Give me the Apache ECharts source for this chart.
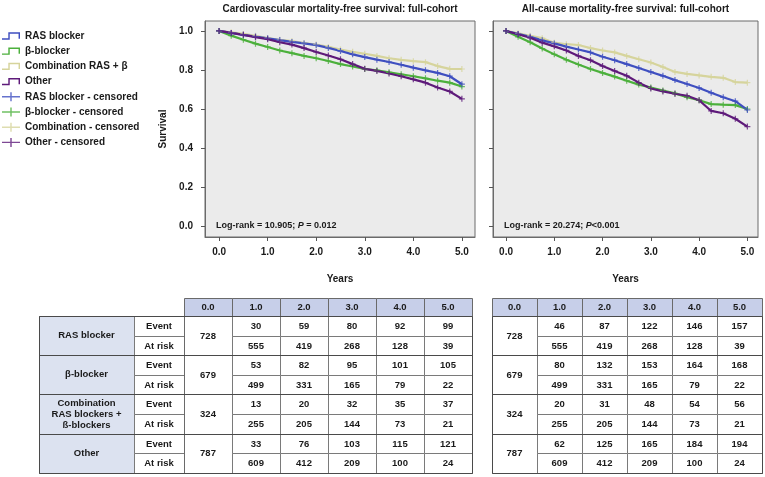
<!DOCTYPE html>
<html>
<head>
<meta charset="utf-8">
<script src="https://cdn.jsdelivr.net/npm/echarts@6/dist/echarts.min.js"></script>
<style>
html,body{margin:0;padding:0;background:#fff;}
#chart{width:765px;height:477px;}
</style>
</head>
<body>
<div id="chart"></div>
<script>
// ---------- DATA ----------
const TIMES = [0,0.25,0.5,0.75,1,1.25,1.5,1.75,2,2.25,2.5,2.75,3,3.25,3.5,3.75,4,4.25,4.5,4.75,5];

// Cardiovascular mortality-free survival
const cvRas   = [1.0,0.990,0.980,0.971,0.962,0.953,0.944,0.936,0.927,0.913,0.897,0.880,0.866,0.853,0.841,0.827,0.812,0.798,0.785,0.768,0.727];
const cvBeta  = [1.0,0.976,0.955,0.935,0.918,0.900,0.886,0.872,0.860,0.846,0.830,0.818,0.805,0.798,0.788,0.778,0.768,0.757,0.745,0.735,0.715];
const cvCombo = [1.0,0.993,0.985,0.975,0.963,0.955,0.948,0.938,0.930,0.918,0.905,0.893,0.883,0.872,0.860,0.852,0.845,0.840,0.820,0.806,0.805];
const cvOther = [1.0,0.990,0.980,0.968,0.958,0.942,0.930,0.912,0.892,0.874,0.855,0.830,0.806,0.795,0.782,0.768,0.752,0.735,0.710,0.690,0.652];

// All-cause mortality-free survival
const acRas   = [1.0,0.985,0.970,0.952,0.936,0.920,0.905,0.890,0.868,0.850,0.830,0.810,0.790,0.770,0.748,0.728,0.708,0.683,0.660,0.640,0.595];
const acBeta  = [1.0,0.970,0.942,0.910,0.880,0.852,0.828,0.805,0.785,0.766,0.745,0.725,0.710,0.695,0.680,0.660,0.645,0.625,0.622,0.620,0.600];
const acCombo = [1.0,0.988,0.975,0.963,0.940,0.932,0.928,0.912,0.900,0.890,0.872,0.855,0.838,0.815,0.790,0.780,0.772,0.765,0.760,0.738,0.735];
const acOther = [1.0,0.983,0.965,0.940,0.921,0.900,0.872,0.850,0.820,0.795,0.770,0.735,0.705,0.690,0.678,0.668,0.645,0.590,0.578,0.550,0.510];

const X_TICKS = [0,1,2,3,4,5];
const Y_TICKS = [0,0.2,0.4,0.6,0.8,1.0];

const GROUP_NAMES   = ['RAS blocker','β-blocker','Combination RAS + β','Other'];
const CENSOR_NAMES  = ['RAS blocker - censored','β-blocker - censored','Combination - censored','Other - censored'];
const GROUP_COLORS  = ['#3f4fc0','#4cb03c','#d6d49c','#5e1a7a'];

const TITLES   = ['Cardiovascular mortality-free survival: full-cohort','All-cause mortality-free survival: full-cohort'];
const LOGRANK  = [['Log-rank = 10.905; ',' = 0.012'],['Log-rank = 20.274; ','<0.001']];

// Tables
const TABLE_COLS   = ['0.0','1.0','2.0','3.0','4.0','5.0'];
const TABLE_GROUPS = ['RAS blocker','β-blocker','Combination\nRAS blockers +\nß-blockers','Other'];
const ROW_KINDS    = ['Event','At risk'];
const BASELINE     = [728,679,324,787];
const AT_RISK      = [[555,419,268,128,39],[499,331,165,79,22],[255,205,144,73,21],[609,412,209,100,24]];
const CV_EVENTS    = [[30,59,80,92,99],[53,82,95,101,105],[13,20,32,35,37],[33,76,103,115,121]];
const AC_EVENTS    = [[46,87,122,146,157],[80,132,153,164,168],[20,31,48,54,56],[62,125,165,184,194]];

// ---------- LAYOUT ----------
const FONT = '"Liberation Sans", Arial, sans-serif';
const TXT = '#1a1a1a';
const GRIDS = [
  {left:205, top:21, width:270, height:216, xmin:-0.29, xmax:5.27},
  {left:493, top:21, width:265, height:216, xmin:-0.27, xmax:5.22}
];
const YMIN = -0.056, YMAX = 1.051;

const stepIcon  = 'path://M0,7.5 L7,7.5 L7,1 L20,1 L20,8 L18.4,8 L18.4,2.6 L8.6,2.6 L8.6,9.1 L0,9.1 Z';
const crossIcon = 'path://M0,4.2 L20,4.2 L20,5.8 L0,5.8 Z M9.2,0 L10.8,0 L10.8,10 L9.2,10 Z';
const crossSym  = 'path://M0,4 L10,4 L10,6 L0,6 Z M4,0 L6,0 L6,10 L4,10 Z';

const chart = echarts.init(document.getElementById('chart'), null, {renderer:'canvas'});

const grid = GRIDS.map(g => ({left:g.left, top:g.top, width:g.width, height:g.height,
  show:true, backgroundColor:'#ebebeb', borderColor:'#6a6a6a', borderWidth:1}));

const xAxis = GRIDS.map((g,i) => ({
  gridIndex:i, type:'value', min:g.xmin, max:g.xmax,
  name:'Years', nameLocation:'middle', nameGap:37,
  nameTextStyle:{fontSize:10, fontWeight:'bold', color:TXT, fontFamily:FONT},
  axisLine:{show:true, onZero:false, lineStyle:{color:'#6a6a6a'}},
  axisTick:{show:true, length:4, customValues:X_TICKS, lineStyle:{color:'#555'}},
  axisLabel:{customValues:X_TICKS, formatter:v=>v.toFixed(1), margin:10, fontSize:10, fontWeight:'bold', color:TXT, fontFamily:FONT},
  splitLine:{show:false}
}));

const yAxis = GRIDS.map((g,i) => ({
  gridIndex:i, type:'value', min:YMIN, max:YMAX,
  name: i===0 ? 'Survival' : '', nameLocation:'middle', nameGap:37,
  nameTextStyle:{fontSize:10, fontWeight:'bold', color:TXT, fontFamily:FONT},
  axisLine:{show:true, onZero:false, lineStyle:{color:'#6a6a6a'}},
  axisTick:{show:true, length:4, customValues:Y_TICKS, lineStyle:{color:'#555'}},
  axisLabel:{show: i===0, customValues:Y_TICKS, formatter:v=>v.toFixed(1), margin:12, fontSize:10, fontWeight:'bold', color:TXT, fontFamily:FONT},
  splitLine:{show:false}
}));

const curveSets = [[cvRas,cvBeta,cvCombo,cvOther],[acRas,acBeta,acCombo,acOther]];
const drawOrder = [2,1,0,3];
const series = [];
curveSets.forEach((set, gi) => {
  drawOrder.forEach(k => {
    const data = TIMES.map((t,j) => [t, set[k][j]]);
    series.push({name:GROUP_NAMES[k], type:'line', xAxisIndex:gi, yAxisIndex:gi, data,
      showSymbol:false, symbol:stepIcon, color:GROUP_COLORS[k], lineStyle:{width:2.2, color:GROUP_COLORS[k]}, z:2});
    series.push({name:CENSOR_NAMES[k], type:'scatter', xAxisIndex:gi, yAxisIndex:gi, data,
      symbol:crossSym, symbolSize:6, itemStyle:{color:GROUP_COLORS[k]}, z:3});
  });
});

// ---------- GRAPHIC (titles, log-rank, tables) ----------
const graphic = [];
function txt(x, y, text, opts) {
  graphic.push({type:'text', x, y, silent:true, style:Object.assign({
    text, fill:TXT, fontSize:10, fontWeight:'bold', fontFamily:FONT,
    align:'center', verticalAlign:'middle'}, opts||{})});
}
GRIDS.forEach((g,i) => {
  txt(g.left + g.width/2, 9, TITLES[i]);
  graphic.push({type:'text', x:g.left + 11, y:226, silent:true, style:{
    text:'{a|' + LOGRANK[i][0] + '}{i|P}{a|' + LOGRANK[i][1] + '}',
    verticalAlign:'middle', align:'left',
    rich:{a:{fontSize:9, fontWeight:'bold', fontFamily:FONT, fill:TXT},
          i:{fontSize:9, fontWeight:'bold', fontStyle:'italic', fontFamily:FONT, fill:TXT}}}});
});

function cell(x, y, w, h, fill, stroke) {
  graphic.push({type:'rect', silent:true,
    shape:{x:Math.round(x)+0.5, y:Math.round(y)+0.5, width:Math.round(x+w)-Math.round(x), height:Math.round(y+h)-Math.round(y)},
    style:{fill, stroke:stroke||'#6a6a6a', lineWidth:1}});
}
const HEAD_Y = 298, HEAD_H = 18, ROW_Y = 316, ROW_H = 19.6;
function buildTable(numX0, colW, events, withLabels) {
  TABLE_COLS.forEach((c,i) => {
    cell(numX0 + i*colW, HEAD_Y, colW, HEAD_H, '#c7cfe9');
    txt(numX0 + i*colW + colW/2, HEAD_Y + HEAD_H/2 + 0.5, c, {fontSize:9.5});
  });
  TABLE_GROUPS.forEach((gname, g) => {
    const y = ROW_Y + g*2*ROW_H;
    if (withLabels) {
      cell(39, y, 95, 2*ROW_H, '#dce2f0', '#555');
      txt(39 + 95/2, y + ROW_H, gname, {fontSize:9.5, lineHeight:11});
      ROW_KINDS.forEach((rk, r) => {
        cell(134, y + r*ROW_H, 50, ROW_H, '#ffffff', '#7a7a7a');
        txt(134 + 25, y + r*ROW_H + ROW_H/2 + 0.5, rk, {fontSize:9.5});
      });
    }
    cell(numX0, y, colW, 2*ROW_H, '#ffffff', '#6a6a6a');
    txt(numX0 + colW/2, y + ROW_H + 0.5, String(BASELINE[g]), {fontSize:9.5});
    for (let j = 0; j < 5; j++) {
      const x = numX0 + (j+1)*colW;
      cell(x, y, colW, ROW_H, '#ffffff', '#7a7a7a');
      txt(x + colW/2, y + ROW_H/2 + 0.5, String(events[g][j]), {fontSize:9.5});
      cell(x, y + ROW_H, colW, ROW_H, '#ffffff', '#7a7a7a');
      txt(x + colW/2, y + ROW_H*1.5 + 0.5, String(AT_RISK[g][j]), {fontSize:9.5});
    }
    graphic.push({type:'rect', silent:true, z:10,
      shape:{x:(withLabels?39:numX0)+0.5, y:Math.round(y)+0.5,
             width:Math.round(numX0+6*colW)-(withLabels?39:numX0), height:Math.round(y+2*ROW_H)-Math.round(y)},
      style:{fill:null, stroke:'#4a4a4a', lineWidth:1}});
  });
}
buildTable(184, 48, CV_EVENTS, true);
buildTable(492, 45, AC_EVENTS, false);

const legendData = GROUP_NAMES.map(n => ({name:n, icon:stepIcon}))
  .concat(CENSOR_NAMES.map(n => ({name:n, icon:crossIcon})));

chart.setOption({
  animation:false,
  backgroundColor:'#ffffff',
  legend:{data:legendData, orient:'vertical', left:0, top:31, padding:[0,0,0,2],
    itemWidth:18, itemHeight:10, itemGap:5.2,
    textStyle:{fontSize:10, fontWeight:'bold', color:TXT, fontFamily:FONT}},
  grid, xAxis, yAxis, series, graphic
});
</script>
</body>
</html>
